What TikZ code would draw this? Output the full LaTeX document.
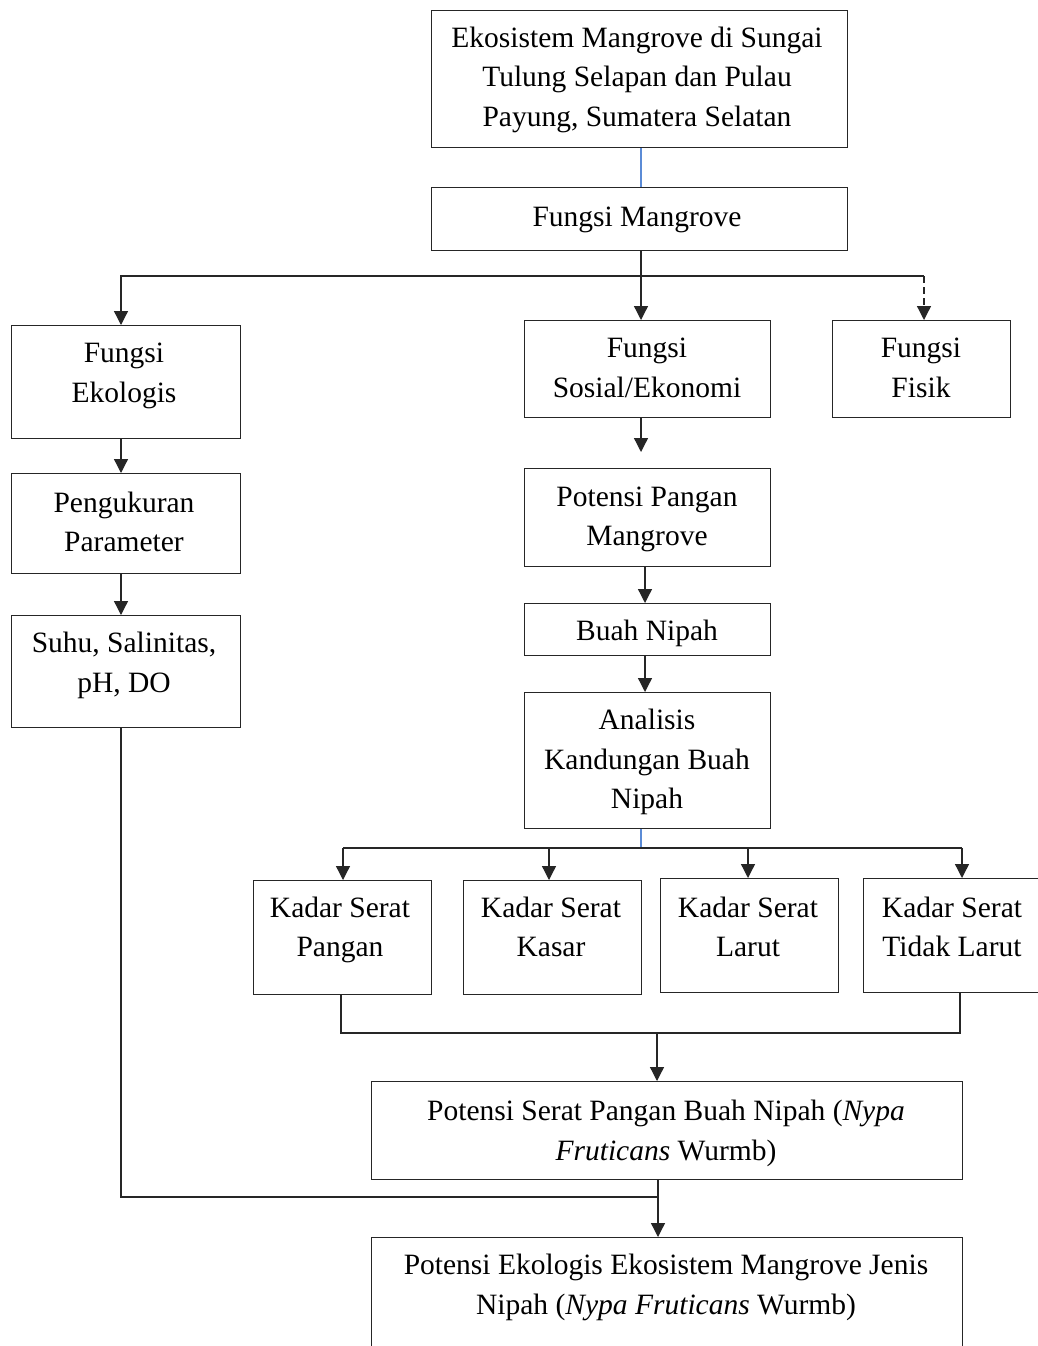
\documentclass[tikz,border=0pt]{standalone}
\usepackage{fontspec}
\setmainfont{Liberation Serif}
\usetikzlibrary{arrows.meta,calc}
\definecolor{linegray}{HTML}{262626}
\definecolor{wordblue}{HTML}{5B8BD6}
\begin{document}
\begin{tikzpicture}[x=1pt,y=1pt,
  box/.style={draw=linegray,line width=1.3pt,rectangle,inner sep=0pt,anchor=north west},
  txt/.style={align=center,inner sep=0pt,yshift=-3.5pt,font=\fontsize{29.5}{39.5}\selectfont,
    execute at begin node={\vphantom{(}},execute at end node={\vphantom{(}}},
  conn/.style={draw=linegray,line width=1.3pt},
  arr/.style={conn,-{Triangle[width=14pt,length=14pt]}},
  blueline/.style={draw=wordblue,line width=1.4pt}]
\useasboundingbox (0,0) rectangle (1038,-1346);
\clip (0,0) rectangle (1038,-1346);
\fill[white] (0,0) rectangle (1038,-1346);
% boxes
\node[box,minimum width=416pt,minimum height=137pt] (top) at (431,-10) {};
\node[box,minimum width=416pt,minimum height=63pt] (fm) at (431,-187) {};
\node[box,minimum width=229pt,minimum height=113pt] (eko) at (11,-325) {};
\node[box,minimum width=246pt,minimum height=97pt] (sos) at (524,-320) {};
\node[box,minimum width=178pt,minimum height=97pt] (fis) at (832,-320) {};
\node[box,minimum width=229pt,minimum height=100pt] (par) at (11,-473) {};
\node[box,minimum width=229pt,minimum height=112pt] (suhu) at (11,-615) {};
\node[box,minimum width=246pt,minimum height=98pt] (pang) at (524,-468) {};
\node[box,minimum width=246pt,minimum height=52pt] (buah) at (524,-603) {};
\node[box,minimum width=246pt,minimum height=136pt] (anal) at (524,-692) {};
\node[box,minimum width=178pt,minimum height=114pt] (k1) at (253,-880) {};
\node[box,minimum width=178pt,minimum height=114pt] (k2) at (463,-880) {};
\node[box,minimum width=178pt,minimum height=114pt] (k3) at (660,-878) {};
\node[box,minimum width=190pt,minimum height=114pt] (k4) at (863,-878) {};
\node[box,minimum width=591pt,minimum height=98pt] (ps) at (371,-1081) {};
\node[box,minimum width=591pt,minimum height=140pt] (pe) at (371,-1237) {};
% texts
\node[txt] (ttop) at (637,-76) {Ekosistem Mangrove di Sungai\\Tulung Selapan dan Pulau\\Payung, Sumatera Selatan};
\node[txt] (tfm) at (637,-216) {Fungsi Mangrove};
\node[txt] (teko) at (124,-372.5) {Fungsi\\Ekologis};
\node[txt] (tsos) at (647,-367.5) {Fungsi\\Sosial/Ekonomi};
\node[txt] (tfis) at (921,-367.5) {Fungsi\\Fisik};
\node[txt] (tpar) at (124,-521.5) {Pengukuran\\Parameter};
\node[txt] (tsuhu) at (124,-662) {Suhu, Salinitas,\\pH, DO};
\node[txt] (tpang) at (647,-516) {Potensi Pangan\\Mangrove};
\node[txt] (tbuah) at (647,-630) {Buah Nipah};
\node[txt] (tanal) at (647,-758.5) {Analisis\\Kandungan Buah\\Nipah};
\node[txt] (tk1) at (340,-926.5) {Kadar Serat\\Pangan};
\node[txt] (tk2) at (551,-926.5) {Kadar Serat\\Kasar};
\node[txt] (tk3) at (748,-926.5) {Kadar Serat\\Larut};
\node[txt] (tk4) at (952,-926.5) {Kadar Serat\\Tidak Larut};
\node[txt] (tps) at (666,-1130) {Potensi Serat Pangan Buah Nipah (\textit{Nypa}\\\textit{Fruticans} Wurmb)};
\node[txt] (tpe) at (666,-1284) {Potensi Ekologis Ekosistem Mangrove Jenis\\Nipah (\textit{Nypa Fruticans} Wurmb)};
% helper coordinates
\coordinate (x121) at (121,0);
\coordinate (x641) at (641,0);
\coordinate (x645) at (645,0);
\coordinate (x924) at (924,0);
\coordinate (x343) at (343,0);
\coordinate (x549) at (549,0);
\coordinate (x748) at (748,0);
\coordinate (x962) at (962,0);
\coordinate (x341) at (341,0);
\coordinate (x960) at (960,0);
\coordinate (x657) at (657,0);
\coordinate (x658) at (658,0);
\coordinate (jA) at (641,-276);
\coordinate (jB) at (641,-848);
\coordinate (jC) at (657,-1033);
\coordinate (jD) at (658,-1197);
% connectors
\draw[blueline] (top.south -| x641) -- (fm.north -| x641);
\draw[conn] (fm.south -| x641) -- (jA);
\draw[arr] (jA) -| (eko.north -| x121);
\draw[arr] (jA) -- (sos.north -| x641);
\draw[conn] (jA) -- (jA -| x924);
\draw[arr,dashed,dash pattern=on 7pt off 4pt] (jA -| x924) -- (fis.north -| x924);
\draw[arr] (eko.south -| x121) -- (par.north -| x121);
\draw[arr] (par.south -| x121) -- (suhu.north -| x121);
\draw[arr,shorten >=16pt] (sos.south -| x641) -- (pang.north -| x641);
\draw[arr] (pang.south -| x645) -- (buah.north -| x645);
\draw[arr] (buah.south -| x645) -- (anal.north -| x645);
\draw[blueline] (anal.south -| x641) -- (jB);
\draw[conn] (jB -| x343) -- (jB -| x962);
\draw[arr] (jB -| x343) -- (k1.north -| x343);
\draw[arr] (jB -| x549) -- (k2.north -| x549);
\draw[arr] (jB -| x748) -- (k3.north -| x748);
\draw[arr] (jB -| x962) -- (k4.north -| x962);
\draw[conn] (k1.south -| x341) |- (jC) -| (k4.south -| x960);
\draw[arr] (jC) -- (ps.north -| x657);
\draw[conn] (suhu.south -| x121) |- (jD);
\draw[arr] (ps.south -| x658) -- (pe.north -| x658);
\end{tikzpicture}
\end{document}
